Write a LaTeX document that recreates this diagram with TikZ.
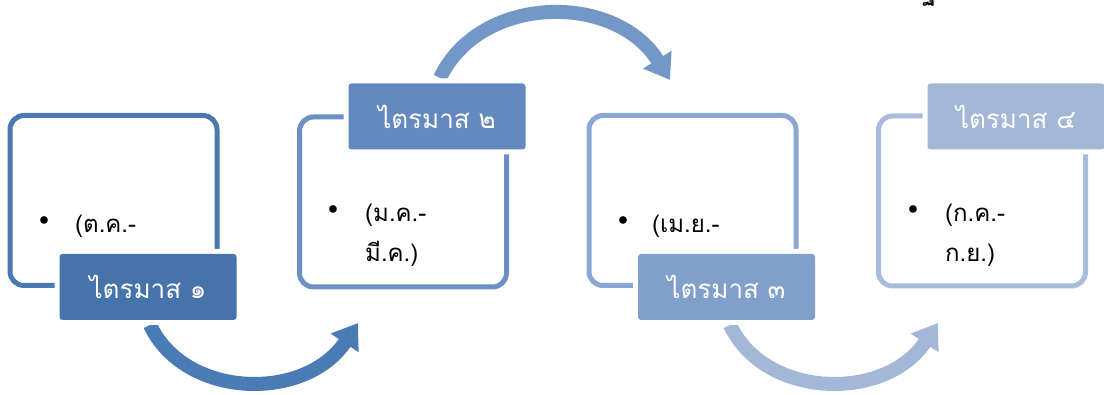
\documentclass[tikz,border=0pt]{standalone}
\usepackage{fontspec}
\newfontfamily\thaifont[Script=Thai]{Loma}
\usetikzlibrary{arrows.meta, positioning}

\definecolor{labone}{HTML}{4674AA}
\definecolor{labtwo}{HTML}{6389BF}
\definecolor{labthree}{HTML}{809FCB}
\definecolor{labfour}{HTML}{A4B7D7}
\definecolor{lineone}{HTML}{4A78B0}
\definecolor{linetwo}{HTML}{6C90C4}
\definecolor{linethree}{HTML}{8AA8D1}
\definecolor{linefour}{HTML}{A9BCDB}
\definecolor{arrowone}{HTML}{4A7BB5}
\definecolor{arrowtwo}{HTML}{7398C7}
\definecolor{arrowthree}{HTML}{A3B7D8}

\begin{document}
\begin{tikzpicture}[
    x=1pt, y=1pt,
    quarterbox/.style={draw, line width=5pt, rounded corners=14pt,
      minimum width=207pt, minimum height=170pt, inner sep=0pt},
    quarterlabel/.style={rounded corners=3pt, minimum width=177pt, minimum height=66pt,
      text=white, font=\thaifont\fontsize{26}{30}\selectfont,
      preaction={draw=white, line width=10pt}},
    bodytext/.style={anchor=base west, inner sep=0pt, font=\thaifont\fontsize{24}{30}\selectfont},
    dot/.style={inner sep=0pt, font=\fontsize{34}{36}\selectfont},
    bigarrow/.style={line width=14pt, -{Triangle[length=24pt, width=32pt]}},
  ]
  \useasboundingbox (0,0) rectangle (1104,394);

  % outline boxes
  \node[quarterbox, draw=lineone] (b1) at (113.5,193.5) {};
  \node[quarterbox, draw=linetwo] (b2) at (403,192) {};
  \node[quarterbox, draw=linethree] (b3) at (692.5,193.5) {};
  \node[quarterbox, draw=linefour] (b4) at (982,193) {};

  % bullets and months
  \node[dot] (d1) at (44,171) {\textbullet};
  \node[bodytext] (t1) at (75,161) {(ต.ค.-};
  \node[dot] (d2) at (333,182) {\textbullet};
  \node[bodytext] (t2) at (365,172) {(ม.ค.-};
  \node[bodytext] (t2b) at (365,132) {มี.ค.)};
  \node[dot] (d3) at (623,171) {\textbullet};
  \node[bodytext] (t3) at (652,161) {(เม.ย.-};
  \node[dot] (d4) at (913,182) {\textbullet};
  \node[bodytext] (t4) at (945,172) {(ก.ค.-};
  \node[bodytext] (t4b) at (945,132) {ก.ย.)};

  % curved arrows
  \coordinate (a1s) at (150,69);
  \coordinate (a1e) at (358,71);
  \coordinate (a2s) at (440,316);
  \coordinate (a2e) at (670,314);
  \coordinate (a3s) at (730,69);
  \coordinate (a3e) at (938,71);
  \draw[bigarrow, arrowone] (a1s) .. controls (185,-5) and (305,-8) .. (a1e);
  \draw[bigarrow, arrowtwo] (a2s) .. controls (480,400) and (615,402) .. (a2e);
  \draw[bigarrow, arrowthree] (a3s) .. controls (765,-5) and (885,-8) .. (a3e);

  % quarter labels
  \node[quarterlabel, fill=labone] (q1) at (148,107) {ไตรมาส ๑};
  \node[quarterlabel, fill=labtwo] (q2) at (437,277.5) {ไตรมาส ๒};
  \node[quarterlabel, fill=labthree] (q3) at (726.5,107) {ไตรมาส ๓};
  \node[quarterlabel, fill=labfour] (q4) at (1016,277.5) {ไตรมาส ๔};

  % cut off title glyph at the top edge
  \node[inner sep=0pt, anchor=base, font=\thaifont\bfseries\fontsize{26}{30}\selectfont] (top) at (929,394) {ฐ};
\end{tikzpicture}
\end{document}
